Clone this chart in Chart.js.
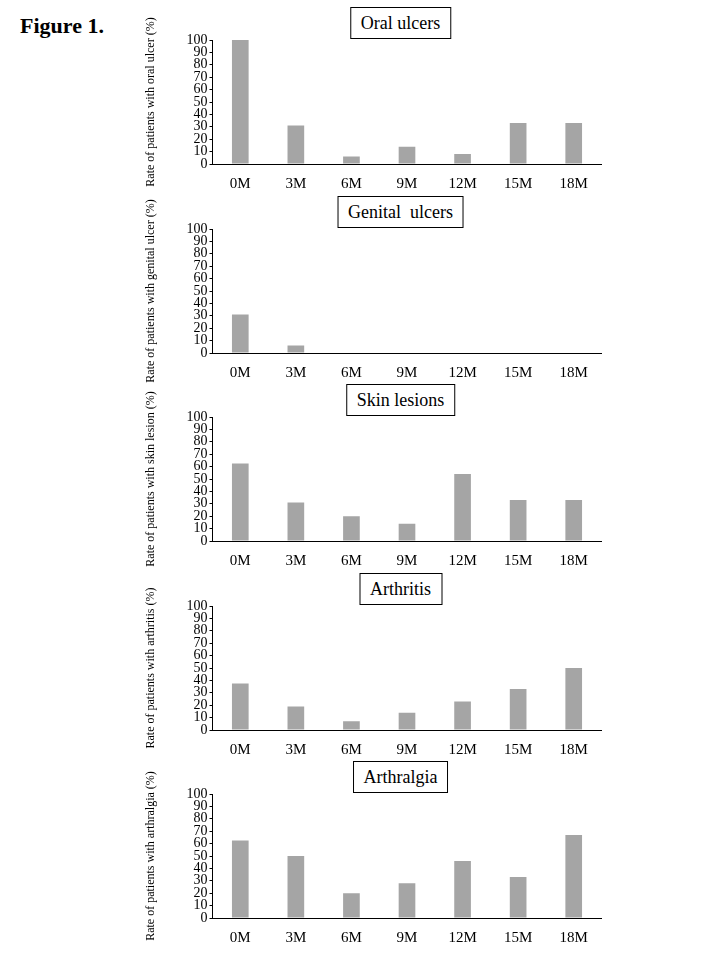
<!DOCTYPE html>
<html>
<head>
<meta charset="utf-8">
<script src="https://cdn.jsdelivr.net/npm/chart.js@4.4.1/dist/chart.umd.min.js"></script>
<style>
body { margin: 0; background: #fff; width: 720px; height: 960px; position: relative; overflow: hidden; font-family: "Liberation Serif", "Times New Roman", serif; }
.fig { position: absolute; left: 20px; top: 13px; font-weight: bold; font-size: 22px; color: #000; }
.panel { position: absolute; left: 130px; width: 480px; height: 200px; }
.panel canvas { position: absolute; left: 0; top: 0; }
.box { position: absolute; left: 270.5px; top: 7px; transform: translateX(-50%); border: 1px solid #000; background: #fff; font-size: 18px; line-height: 30px; padding: 0 10px; white-space: pre; color: #000; }
</style>
</head>
<body>
<div class="fig">Figure 1.</div>
<div id="panels"></div>
<script>
const months = ['0M', '3M', '6M', '9M', '12M', '15M', '18M'];
const oralUlcers = [100, 31, 6, 14, 8, 33, 33];
const genitalUlcers = [31, 6, 0, 0, 0, 0, 0];
const skinLesions = [62.5, 31, 20, 14, 54, 33, 33];
const arthritis = [37.5, 19, 7, 14, 23, 33, 50];
const arthralgia = [62.5, 50, 20, 28, 46, 33, 67];
const panelTitles = ['Oral ulcers', 'Genital  ulcers', 'Skin lesions', 'Arthritis', 'Arthralgia'];
const yTitles = [
    'Rate of patients with oral ulcer (%)',
    'Rate of patients with genital ulcer (%)',
    'Rate of patients with skin lesion (%)',
    'Rate of patients with arthritis (%)',
    'Rate of patients with arthralgia (%)'
];
const series = [oralUlcers, genitalUlcers, skinLesions, arthritis, arthralgia];

const serif = '"Liberation Serif", "Times New Roman", serif';
const barColor = '#a5a5a5';
const panelStep = 188.6;
const holder = document.getElementById('panels');

series.forEach(function (values, i) {
    const panel = document.createElement('div');
    panel.className = 'panel';
    panel.style.top = (i * panelStep) + 'px';
    const canvas = document.createElement('canvas');
    canvas.width = 480;
    canvas.height = 200;
    panel.appendChild(canvas);
    const box = document.createElement('div');
    box.className = 'box';
    box.textContent = panelTitles[i];
    panel.appendChild(box);
    holder.appendChild(panel);

    new Chart(canvas, {
        type: 'bar',
        data: {
            labels: months,
            datasets: [
                {
                    data: values,
                    backgroundColor: barColor,
                    borderWidth: 0,
                    barPercentage: 0.3,
                    categoryPercentage: 1
                }
            ]
        },
        options: {
            responsive: false,
            animation: false,
            events: [],
            layout: {
                padding: { top: 40, right: 8.5, bottom: 12, left: 0 }
            },
            plugins: {
                legend: { display: false },
                tooltip: { enabled: false }
            },
            scales: {
                x: {
                    grid: { display: false, drawTicks: false },
                    border: { display: true, color: '#000', width: 1 },
                    ticks: {
                        color: '#000',
                        font: { family: serif, size: 15 },
                        padding: 11,
                        maxRotation: 0,
                        autoSkip: false
                    },
                    afterFit: function (scale) { scale.height = 24; }
                },
                y: {
                    min: 0,
                    max: 100,
                    grid: { drawOnChartArea: false, drawTicks: true, tickLength: 3, color: '#000' },
                    border: { color: '#000', width: 1 },
                    ticks: {
                        stepSize: 10,
                        autoSkip: false,
                        color: '#000',
                        font: { family: serif, size: 14 },
                        padding: 2
                    },
                    title: {
                        display: true,
                        text: yTitles[i],
                        color: '#000',
                        font: { family: serif, size: 12 },
                        padding: { top: 14, bottom: 0 }
                    },
                    afterFit: function (scale) { scale.width = 82.5; }
                }
            }
        }
    });
});
</script>
</body>
</html>
